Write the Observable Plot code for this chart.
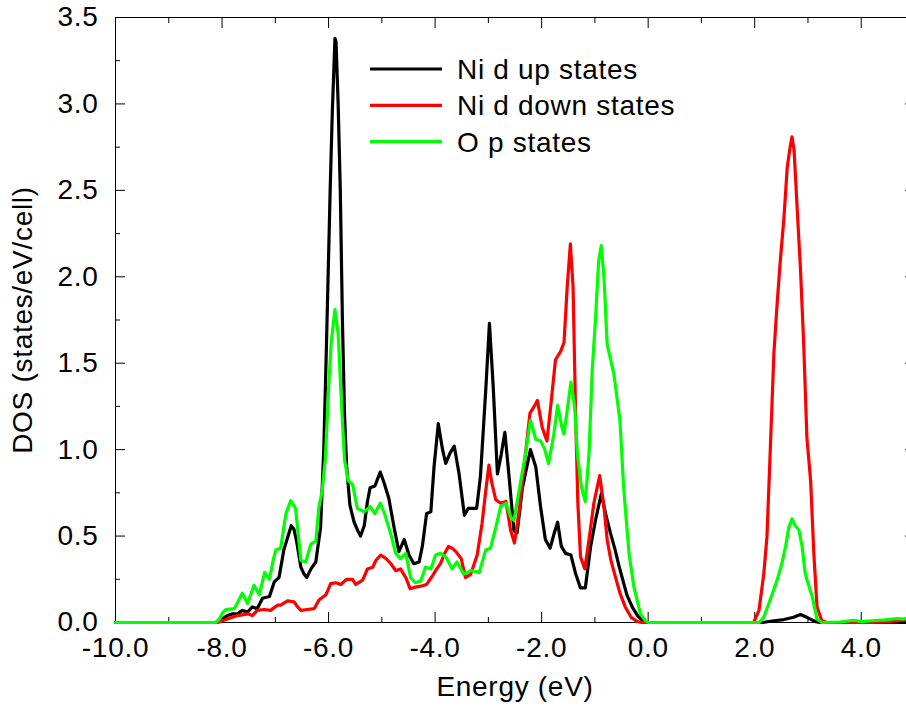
<!DOCTYPE html>
<html>
<head>
<meta charset="utf-8">
<script src="https://cdn.jsdelivr.net/npm/d3@7"></script>
<script src="https://cdn.jsdelivr.net/npm/@observablehq/plot@0.6"></script>
<style>
  html, body { margin: 0; padding: 0; background: #fff; }
  #chart svg { display: block; overflow: hidden; }
  #chart svg text { letter-spacing: 0.7px; }
</style>
</head>
<body>
<div id="chart"></div>
<script>
// Axis ticks
const xMajorTicks = [-10, -8, -6, -4, -2, 0, 2, 4];
const xMinorTicks = [-9, -7, -5, -3, -1, 1, 3, 5];
const yMajorTicks = [0, 0.5, 1, 1.5, 2, 2.5, 3, 3.5];
const yMinorTicks = [0.25, 0.75, 1.25, 1.75, 2.25, 2.75, 3.25];

const xLabel = "Energy (eV)";
const yLabel = "DOS (states/eV/cell)";

const seriesNames = ["Ni d up states", "Ni d down states", "O p states"];
const seriesColors = ["#000000", "#ff0000", "#00ff00"];

// Projected densities of states: [energy (eV), DOS (states/eV/cell)]
const niDUp = [
  [-10, 0], [-8.1, 0], [-8.02, 0.01], [-7.95, 0.03], [-7.9, 0.04], [-7.8, 0.05], [-7.71, 0.05],
  [-7.62, 0.07], [-7.52, 0.06], [-7.43, 0.09], [-7.34, 0.08], [-7.24, 0.14], [-7.11, 0.15],
  [-7.02, 0.235], [-6.93, 0.26], [-6.84, 0.42], [-6.76, 0.5], [-6.7, 0.56], [-6.65, 0.54],
  [-6.6, 0.47], [-6.52, 0.32], [-6.46, 0.28], [-6.41, 0.26], [-6.33, 0.31], [-6.24, 0.35],
  [-6.15, 0.55], [-6.09, 1.0], [-6.04, 1.6], [-5.97, 2.5], [-5.93, 2.95], [-5.88, 3.38],
  [-5.86, 3.36], [-5.82, 3.0], [-5.78, 2.5], [-5.74, 1.75], [-5.7, 1.2], [-5.66, 0.9],
  [-5.6, 0.68], [-5.52, 0.58], [-5.45, 0.53], [-5.4, 0.5], [-5.33, 0.56], [-5.27, 0.7],
  [-5.22, 0.78], [-5.13, 0.79], [-5.03, 0.87], [-4.96, 0.81], [-4.87, 0.72], [-4.77, 0.55],
  [-4.68, 0.41], [-4.58, 0.48], [-4.49, 0.39], [-4.4, 0.34], [-4.3, 0.35], [-4.24, 0.44],
  [-4.16, 0.63], [-4.08, 0.64], [-4.02, 0.9], [-3.94, 1.15], [-3.86, 1.0], [-3.8, 0.92],
  [-3.72, 0.98], [-3.64, 1.02], [-3.55, 0.86], [-3.45, 0.62], [-3.38, 0.66], [-3.22, 0.66],
  [-3.15, 0.84], [-3.05, 1.34], [-2.98, 1.73], [-2.91, 1.37], [-2.83, 0.86], [-2.76, 0.97],
  [-2.69, 1.1], [-2.61, 0.84], [-2.52, 0.53], [-2.46, 0.52], [-2.36, 0.78], [-2.21, 1.0],
  [-2.11, 0.9], [-2.02, 0.67], [-1.93, 0.48], [-1.84, 0.43], [-1.77, 0.51], [-1.7, 0.58],
  [-1.63, 0.44], [-1.55, 0.4], [-1.45, 0.39], [-1.36, 0.28], [-1.27, 0.2], [-1.18, 0.2],
  [-1.08, 0.44], [-0.99, 0.59], [-0.88, 0.745], [-0.8, 0.63], [-0.71, 0.52], [-0.62, 0.42],
  [-0.55, 0.33], [-0.48, 0.25], [-0.4, 0.16], [-0.3, 0.09], [-0.2, 0.04], [-0.1, 0.01],
  [-0.03, 0], [2.15, 0], [2.36, 0.01], [2.55, 0.017], [2.73, 0.03], [2.86, 0.046],
  [2.98, 0.03], [3.14, 0.005], [3.23, 0], [5, 0]
];

const niDDown = [
  [-10, 0], [-8.08, 0], [-8.0, 0.01], [-7.9, 0.02], [-7.71, 0.04], [-7.52, 0.05], [-7.43, 0.04],
  [-7.34, 0.07], [-7.21, 0.075], [-7.09, 0.07], [-6.96, 0.1], [-6.9, 0.1], [-6.77, 0.125],
  [-6.65, 0.12], [-6.58, 0.09], [-6.52, 0.07], [-6.4, 0.075], [-6.27, 0.08], [-6.18, 0.13],
  [-6.05, 0.16], [-5.96, 0.225], [-5.86, 0.23], [-5.77, 0.22], [-5.66, 0.25], [-5.55, 0.25],
  [-5.49, 0.22], [-5.36, 0.245], [-5.27, 0.31], [-5.17, 0.32], [-5.11, 0.36], [-5.02, 0.39],
  [-4.92, 0.37], [-4.83, 0.34], [-4.74, 0.3], [-4.65, 0.31], [-4.55, 0.26], [-4.47, 0.195],
  [-4.37, 0.205], [-4.27, 0.21], [-4.16, 0.22], [-4.05, 0.27], [-3.97, 0.31], [-3.9, 0.34],
  [-3.82, 0.4], [-3.75, 0.44], [-3.68, 0.43], [-3.61, 0.41], [-3.51, 0.37], [-3.43, 0.26],
  [-3.33, 0.28], [-3.21, 0.39], [-3.12, 0.57], [-3.05, 0.76], [-2.99, 0.91], [-2.93, 0.8],
  [-2.86, 0.71], [-2.77, 0.69], [-2.67, 0.7], [-2.58, 0.53], [-2.51, 0.46], [-2.43, 0.63],
  [-2.33, 0.9], [-2.22, 1.21], [-2.14, 1.25], [-2.08, 1.285], [-1.99, 1.13], [-1.9, 1.05],
  [-1.83, 1.25], [-1.74, 1.52], [-1.64, 1.57], [-1.58, 1.62], [-1.52, 1.94], [-1.46, 2.19],
  [-1.41, 1.94], [-1.36, 1.17], [-1.32, 0.69], [-1.27, 0.38], [-1.19, 0.31], [-1.11, 0.48],
  [-1.02, 0.69], [-0.91, 0.85], [-0.83, 0.67], [-0.77, 0.48], [-0.7, 0.36], [-0.62, 0.27],
  [-0.53, 0.17], [-0.43, 0.09], [-0.32, 0.03], [-0.2, 0.005], [-0.12, 0], [1.98, 0],
  [2.08, 0.07], [2.17, 0.28], [2.23, 0.495], [2.29, 0.98], [2.36, 1.555], [2.42, 1.84],
  [2.48, 2.09], [2.55, 2.345], [2.61, 2.63], [2.66, 2.74], [2.7, 2.81], [2.74, 2.73],
  [2.8, 2.38], [2.86, 2.04], [2.92, 1.61], [2.98, 1.07], [3.05, 0.82], [3.11, 0.4],
  [3.17, 0.09], [3.26, 0.01], [3.36, 0], [4.2, 0], [4.5, 0.005], [4.7, 0.01], [4.85, 0.015],
  [5, 0.01]
];

const oP = [
  [-10, 0], [-8.12, 0], [-8.05, 0.02], [-7.98, 0.06], [-7.93, 0.075], [-7.77, 0.08],
  [-7.7, 0.12], [-7.62, 0.17], [-7.52, 0.11], [-7.4, 0.215], [-7.3, 0.16], [-7.2, 0.29],
  [-7.11, 0.25], [-7.04, 0.36], [-6.99, 0.42], [-6.9, 0.43], [-6.8, 0.63], [-6.71, 0.705],
  [-6.62, 0.66], [-6.52, 0.36], [-6.43, 0.35], [-6.33, 0.455], [-6.24, 0.47], [-6.18, 0.67],
  [-6.12, 0.76], [-6.06, 0.95], [-6.0, 1.35], [-5.95, 1.62], [-5.88, 1.81], [-5.82, 1.67],
  [-5.76, 1.285], [-5.7, 0.94], [-5.63, 0.82], [-5.55, 0.8], [-5.46, 0.66], [-5.33, 0.64],
  [-5.22, 0.67], [-5.13, 0.63], [-5.03, 0.69], [-4.95, 0.63], [-4.83, 0.51], [-4.74, 0.4],
  [-4.65, 0.37], [-4.55, 0.4], [-4.46, 0.26], [-4.37, 0.23], [-4.27, 0.24], [-4.18, 0.32],
  [-4.08, 0.31], [-3.99, 0.39], [-3.9, 0.4], [-3.8, 0.38], [-3.68, 0.31], [-3.59, 0.35],
  [-3.46, 0.28], [-3.33, 0.3], [-3.17, 0.29], [-3.05, 0.42], [-2.96, 0.43], [-2.86, 0.55],
  [-2.77, 0.67], [-2.67, 0.69], [-2.58, 0.61], [-2.52, 0.59], [-2.43, 0.75], [-2.3, 0.98],
  [-2.21, 1.17], [-2.11, 1.06], [-2.02, 1.05], [-1.95, 1.01], [-1.87, 0.92], [-1.77, 1.09],
  [-1.7, 1.256], [-1.62, 1.13], [-1.58, 1.09], [-1.51, 1.25], [-1.45, 1.39], [-1.38, 1.25],
  [-1.33, 0.98], [-1.25, 0.78], [-1.18, 0.7], [-1.11, 0.98], [-1.05, 1.46], [-0.99, 1.75],
  [-0.93, 2.09], [-0.88, 2.18], [-0.83, 2.0], [-0.77, 1.61], [-0.645, 1.44], [-0.53, 1.17],
  [-0.46, 0.78], [-0.36, 0.4], [-0.27, 0.21], [-0.145, 0.05], [-0.05, 0.01], [0, 0],
  [2.08, 0], [2.17, 0.03], [2.29, 0.13], [2.42, 0.245], [2.51, 0.34], [2.58, 0.44],
  [2.64, 0.55], [2.7, 0.6], [2.76, 0.56], [2.83, 0.535], [2.89, 0.44], [2.95, 0.28],
  [3.01, 0.22], [3.08, 0.15], [3.17, 0.02], [3.26, 0], [3.6, 0.003], [3.86, 0.013],
  [4.0, 0.005], [4.2, 0.01], [4.45, 0.015], [4.67, 0.023], [4.8, 0.02], [4.9, 0.03], [5, 0.02]
];

const rows = [niDUp, niDDown, oP].flatMap((points, i) =>
  points.map(([energy, dos]) => ({series: seriesNames[i], energy, dos}))
);

const fmt = (d) => d.toFixed(1);
const tickOnly = {fill: "none", label: null};
const fontFamily = "'Liberation Sans', Arial, sans-serif";

const chart = Plot.plot({
  width: 906,
  height: 707,
  marginLeft: 115,
  marginRight: -8,
  marginTop: 17,
  marginBottom: 85,
  style: {fontSize: "28px", fontFamily, background: "white", color: "black"},
  x: {domain: [-10, 5]},
  y: {domain: [0, 3.5]},
  color: {domain: seriesNames, range: seriesColors},
  marks: [
    // inward ticks on all four sides of the frame
    Plot.axisX(xMajorTicks, {anchor: "bottom", tickSize: -10, ...tickOnly}),
    Plot.axisX(xMinorTicks, {anchor: "bottom", tickSize: -5, ...tickOnly}),
    Plot.axisX(xMajorTicks, {anchor: "top", tickSize: -10, ...tickOnly}),
    Plot.axisX(xMinorTicks, {anchor: "top", tickSize: -5, ...tickOnly}),
    Plot.axisY(yMajorTicks, {anchor: "left", tickSize: -10, ...tickOnly}),
    Plot.axisY(yMinorTicks, {anchor: "left", tickSize: -5, ...tickOnly}),
    Plot.axisY(yMajorTicks, {anchor: "right", tickSize: -10, ...tickOnly}),
    Plot.axisY(yMinorTicks, {anchor: "right", tickSize: -5, ...tickOnly}),
    // tick labels and axis titles
    Plot.axisX(xMajorTicks, {
      anchor: "bottom", tickSize: 0, tickPadding: 15, tickFormat: fmt,
      label: xLabel, labelAnchor: "center", labelArrow: "none", labelOffset: 73
    }),
    Plot.axisY(yMajorTicks, {
      anchor: "left", tickSize: 0, tickPadding: 17, tickFormat: fmt,
      label: yLabel, labelAnchor: "center", labelArrow: "none", labelOffset: 103
    }),
    Plot.frame({stroke: "black", strokeWidth: 1}),
    Plot.line(rows, {
      x: "energy", y: "dos", z: "series", stroke: "series",
      strokeWidth: 3.2, strokeLinejoin: "round", strokeLinecap: "round"
    })
  ]
});

document.getElementById("chart").append(chart);

// Legend in the upper part of the plot area
const legend = d3.select(chart).append("g")
  .attr("font-family", fontFamily)
  .attr("font-size", 28)
  .attr("text-anchor", "start");
seriesNames.forEach((name, i) => {
  const y = 69 + i * 36.3;
  legend.append("line")
    .attr("x1", 370).attr("x2", 442).attr("y1", y).attr("y2", y)
    .attr("stroke", seriesColors[i]).attr("stroke-width", 3.2);
  legend.append("text")
    .attr("x", 457).attr("y", y).attr("dy", "0.36em")
    .attr("fill", "black")
    .text(name);
});
</script>
</body>
</html>
